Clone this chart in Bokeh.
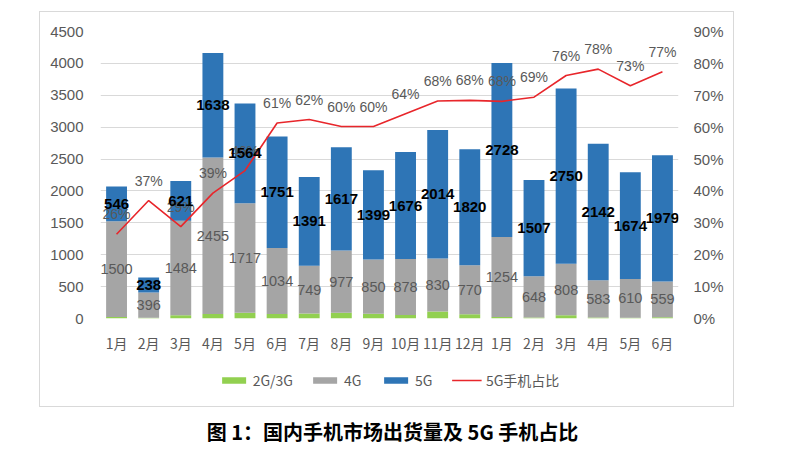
from bokeh.plotting import figure
from bokeh.layouts import column
from bokeh.models import (Range1d, LinearAxis, FixedTicker, PrintfTickFormatter,
                          ColumnDataSource, Legend, LegendItem, Div)
from bokeh.core.properties import value
from bokeh.embed import file_html
from bokeh.resources import INLINE

months = ["1月", "2月", "3月", "4月", "5月", "6月", "7月", "8月", "9月", "10月", "11月", "12月",
          "1月", "2月", "3月", "4月", "5月", "6月"]
g23 = [25, 10, 50, 70, 90, 70, 80, 90, 75, 55, 110, 65, 25, 15, 50, 15, 10, 20]
g4 = [1500, 396, 1484, 2455, 1717, 1034, 749, 977, 850, 878, 830, 770, 1254, 648, 808, 583, 610, 559]
g5 = [546, 238, 621, 1638, 1564, 1751, 1391, 1617, 1399, 1676, 2014, 1820, 2728, 1507, 2750, 2142, 1674, 1979]
share = [26.4, 37.0, 28.8, 39.3, 46.4, 61.3, 62.4, 60.2, 60.2, 64.2, 68.2, 68.4, 68.1, 69.4, 76.2, 78.2, 73.0, 77.4]
left_ticks = [0, 500, 1000, 1500, 2000, 2500, 3000, 3500, 4000, 4500]
right_ticks = [0, 10, 20, 30, 40, 50, 60, 70, 80, 90]
series_names = ["2G/3G", "4G", "5G", "5G手机占比"]
title_text = "图 1：国内手机市场出货量及 5G 手机占比"

GREEN = "#92D050"
GRAY = "#A5A5A5"
BLUE = "#2E75B6"
RED = "#E8262B"
TXT = "#595959"
NUM_FONT = "Liberation Sans"
CJK_FONT = "Noto Sans CJK SC"

x = list(range(len(months)))
src = ColumnDataSource(dict(
    x=x, g23=g23, g4=g4, g5=g5, share=share,
    y4=[a + b / 2 for a, b in zip(g23, g4)],
    y5=[a + b + c / 2 for a, b, c in zip(g23, g4, g5)],
    t4=[str(v) for v in g4],
    t5=[str(v) for v in g5],
    tp=[f"{s:.0f}%" for s in share],
))

# ---- main chart ----
p = figure(width=693, height=348, x_range=Range1d(-0.5, len(months) - 0.5),
           y_range=Range1d(0, 4500), output_backend="svg", toolbar_location=None,
           min_border_left=60, min_border_right=55, min_border_top=19, min_border_bottom=42)
p.extra_y_ranges = {"pct": Range1d(0, 90)}
p.outline_line_color = None
p.background_fill_color = "white"
p.border_fill_color = "white"

bars = p.vbar_stack(["g23", "g4", "g5"], x="x", width=0.65, source=src,
                    color=[GREEN, GRAY, BLUE], line_color=None)
line = p.line("x", "share", source=src, y_range_name="pct", color=RED, line_width=1.6)

p.text("x", "y4", text="t4", source=src, text_align="center", text_baseline="middle",
       text_font=value(NUM_FONT), text_font_size="14.5px", text_color=TXT)
p.text("x", "share", text="tp", source=src, y_range_name="pct", y_offset=-20,
       text_align="center", text_baseline="middle",
       text_font=value(NUM_FONT), text_font_size="14px", text_color=TXT)
p.text("x", "y5", text="t5", source=src, text_align="center", text_baseline="middle",
       text_font=value(NUM_FONT), text_font_size="15px", text_font_style="bold", text_color="black")

p.xaxis.ticker = FixedTicker(ticks=x)
p.xaxis.major_label_overrides = {i: m for i, m in enumerate(months)}
p.yaxis.ticker = FixedTicker(ticks=left_ticks)
right = LinearAxis(y_range_name="pct", ticker=FixedTicker(ticks=right_ticks),
                   formatter=PrintfTickFormatter(format="%d%%"))
p.add_layout(right, "right")
for ax in [p.xaxis[0], p.yaxis[0], right]:
    ax.axis_line_color = None
    ax.major_tick_line_color = None
    ax.minor_tick_line_color = None
    ax.major_tick_in = 0
    ax.major_tick_out = 0
    ax.major_label_text_color = TXT
    ax.major_label_text_font = NUM_FONT
    ax.major_label_text_font_size = "15px"
p.xaxis.major_label_text_font = CJK_FONT
p.xaxis.major_label_text_font_size = "14px"
p.xaxis.major_label_standoff = 14
p.yaxis[0].major_label_standoff = 17
right.major_label_standoff = 15

p.xgrid.grid_line_color = None
p.ygrid.grid_line_color = "#D9D9D9"
p.ygrid.ticker = FixedTicker(ticks=left_ticks)

# ---- legend strip (swatch renderers sit outside the visible range) ----
lg = figure(width=693, height=46, x_range=Range1d(0, 1), y_range=Range1d(0, 1),
            output_backend="svg", toolbar_location=None, x_axis_type=None, y_axis_type=None,
            min_border=0)
lg.outline_line_color = None
lg.background_fill_color = "white"
lg.border_fill_color = "white"
off = ColumnDataSource(dict(x=[-10, -11], y=[-10, -10]))
r_g = lg.vbar(x="x", top="y", width=0.1, source=off, color=GREEN, line_color=None)
r_4 = lg.vbar(x="x", top="y", width=0.1, source=off, color=GRAY, line_color=None)
r_5 = lg.vbar(x="x", top="y", width=0.1, source=off, color=BLUE, line_color=None)
r_l = lg.line(x="x", y="y", source=off, color=RED, line_width=1.6)

legend = Legend(items=[
    LegendItem(label=series_names[0], renderers=[r_g]),
    LegendItem(label=series_names[1], renderers=[r_4]),
    LegendItem(label=series_names[2], renderers=[r_5]),
    LegendItem(label=series_names[3], renderers=[r_l]),
], orientation="horizontal", location="top_center")
legend.glyph_width = 30
legend.glyph_height = 8
legend.label_standoff = 4
legend.spacing = 17
legend.padding = 0
legend.margin = 10
legend.border_line_color = None
legend.background_fill_alpha = 0
legend.label_text_font = CJK_FONT
legend.label_text_font_size = "14px"
legend.label_text_color = TXT
lg.add_layout(legend, "center")

box = column(p, lg, spacing=0, margin=(12, 52, 0, 40),
             styles={"outline": "1.5px solid #D9D9D9"})

title = Div(text=title_text, width=785, margin=(12, 0, 0, 0),
            styles={"text-align": "center", "font-size": "20px", "font-weight": "bold",
                    "font-family": "'Noto Sans CJK SC'", "color": "black", "width": "785px"})

layout = column(box, title, spacing=0)
open("out.html", "w").write(file_html(layout, INLINE))
